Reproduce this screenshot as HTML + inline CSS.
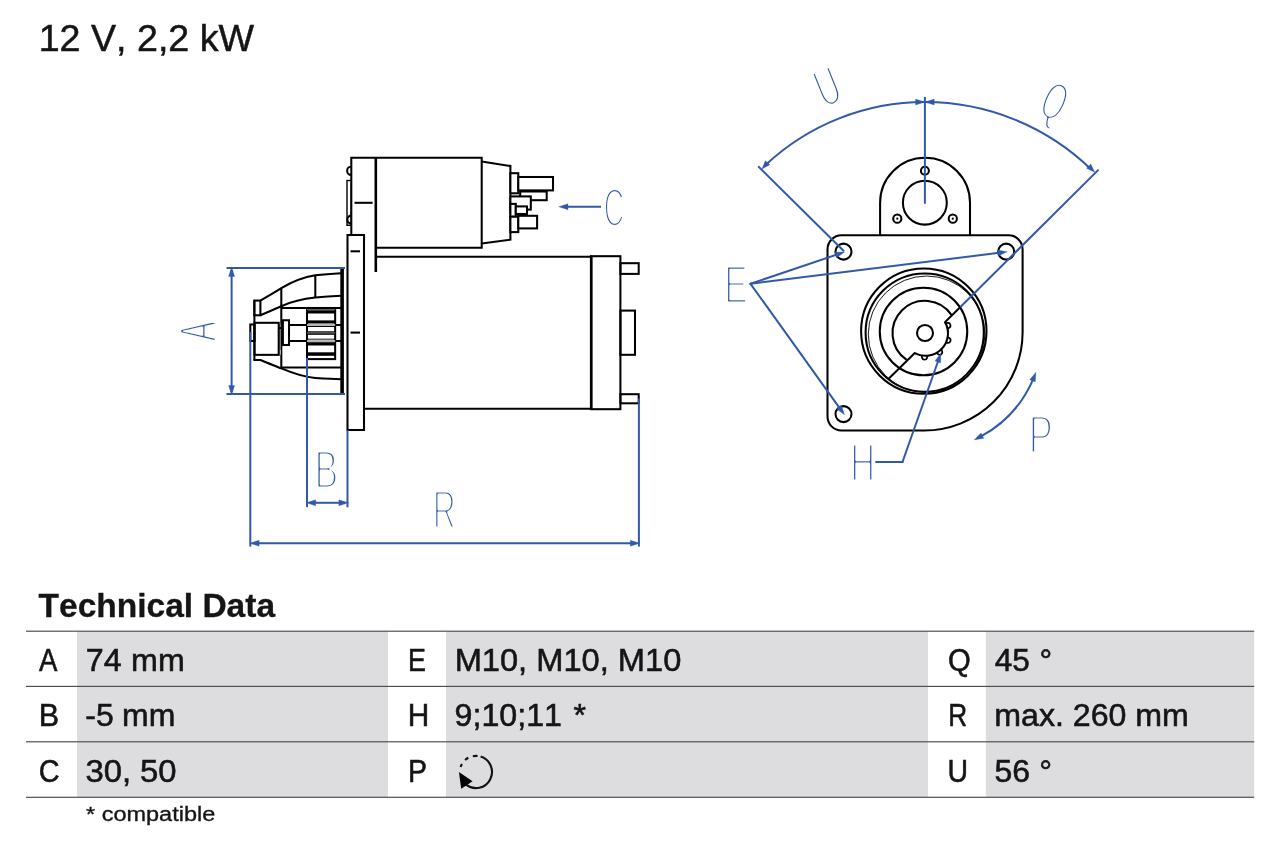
<!DOCTYPE html>
<html lang="en"><head><meta charset="utf-8"><title>12 V, 2,2 kW</title>
<style>
html,body{margin:0;padding:0;background:#fff;}
body{width:1280px;height:853px;overflow:hidden;position:relative;font-family:"Liberation Sans",sans-serif;}
svg{position:absolute;left:0;top:0;display:block;will-change:transform;}
text{font-family:"Liberation Sans",sans-serif;}
.k{fill:none;stroke:#000;stroke-width:2.05;stroke-linejoin:miter;stroke-linecap:butt;}
.b{fill:none;stroke:#3159a9;stroke-width:2.0;stroke-linecap:butt;}
.bf{fill:#3159a9;stroke:none;}
.lt{font-family:"Liberation Sans",sans-serif;font-weight:400;fill:#3159a9;stroke:#fff;stroke-linejoin:round;paint-order:fill stroke;}
.ah{stroke:#3159a9;stroke-width:0.3;stroke-linejoin:round;}
.t{fill:#151515;font-kerning:none;font-weight:400;}
.bd{font-weight:700;}
</style></head><body>
<svg width="1280" height="853" viewBox="0 0 1280 853">
<rect x="0" y="0" width="1280" height="853" fill="#fff"/>

<text class="t" transform="translate(38.68 50.50) scale(1.0007 1.0000)" font-size="37.6" style="stroke:#151515;stroke-width:0.5px">12 V, 2,2 kW</text>
<rect x="77.1" y="631.2" width="310.9" height="55.2" fill="#dddddf"/>
<rect x="446" y="631.2" width="482" height="55.2" fill="#dddddf"/>
<rect x="985.8" y="631.2" width="268.4" height="55.2" fill="#dddddf"/>
<rect x="77.1" y="686.4" width="310.9" height="55.4" fill="#dddddf"/>
<rect x="446" y="686.4" width="482" height="55.4" fill="#dddddf"/>
<rect x="985.8" y="686.4" width="268.4" height="55.4" fill="#dddddf"/>
<rect x="77.1" y="741.8" width="310.9" height="55.5" fill="#dddddf"/>
<rect x="446" y="741.8" width="482" height="55.5" fill="#dddddf"/>
<rect x="985.8" y="741.8" width="268.4" height="55.5" fill="#dddddf"/>
<rect x="26" y="630.625" width="1228.2" height="1.15" fill="#4a4a4a"/>
<rect x="26" y="685.825" width="1228.2" height="1.15" fill="#4a4a4a"/>
<rect x="26" y="741.225" width="1228.2" height="1.15" fill="#4a4a4a"/>
<rect x="26" y="796.725" width="1228.2" height="1.15" fill="#4a4a4a"/>
<text class="t bd" transform="translate(38.52 617.35) scale(1.0159 1.0000)" font-size="33" style="stroke:#151515;stroke-width:0.3px">Technical Data</text>
<text class="t" transform="translate(39.02 670.75) scale(0.8990 1.0000)" font-size="30.7" style="stroke:#151515;stroke-width:0.55px">A</text>
<text class="t" transform="translate(85.82 670.75) scale(1.0502 1)" font-size="30.7" style="stroke:#151515;stroke-width:0.55px">74 <tspan dx="0.47">mm</tspan></text>
<text class="t" transform="translate(38.77 726.25) scale(0.9945 1.0000)" font-size="30.7" style="stroke:#151515;stroke-width:0.55px">B</text>
<text class="t" transform="translate(85.25 726.25) scale(1.0417 1)" font-size="30.7" style="stroke:#151515;stroke-width:0.55px">-5 <tspan dx="-0.41">mm</tspan></text>
<text class="t" transform="translate(38.81 781.65) scale(0.9387 1.0000)" font-size="30.7" style="stroke:#151515;stroke-width:0.55px">C</text>
<text class="t" transform="translate(85.42 781.65) scale(1.0703 1)" font-size="30.7" style="stroke:#151515;stroke-width:0.55px">30, <tspan dx="-0.25">50</tspan></text>
<text class="t" transform="translate(408.07 670.75) scale(0.8744 1.0000)" font-size="30.7" style="stroke:#151515;stroke-width:0.55px">E</text>
<text class="t" transform="translate(454.65 670.75) scale(1.0632 1.0000)" font-size="30.7" style="stroke:#151515;stroke-width:0.55px">M10, M10, M10</text>
<text class="t" transform="translate(407.83 726.25) scale(0.9709 1.0000)" font-size="30.7" style="stroke:#151515;stroke-width:0.55px">H</text>
<text class="t" transform="translate(454.57 726.25) scale(1.0488 1)" font-size="30.7" style="stroke:#151515;stroke-width:0.55px">9;10;11 <tspan dx="2.59">*</tspan></text>
<text class="t" transform="translate(407.94 781.65) scale(0.9272 1.0000)" font-size="30.7" style="stroke:#151515;stroke-width:0.55px">P</text>
<text class="t" transform="translate(947.89 670.75) scale(0.9520 1.0000)" font-size="30.7" style="stroke:#151515;stroke-width:0.55px">Q</text>
<text class="t" transform="translate(994.75 670.75) scale(1.0279 1)" font-size="30.7" style="stroke:#151515;stroke-width:0.55px">45 <tspan dx="0.76">°</tspan></text>
<text class="t" transform="translate(948.13 726.25) scale(0.8531 1.0000)" font-size="30.7" style="stroke:#151515;stroke-width:0.55px">R</text>
<text class="t" transform="translate(994.24 726.25) scale(1.0471 1.0000)" font-size="30.7" style="stroke:#151515;stroke-width:0.55px">max. 260 mm</text>
<text class="t" transform="translate(947.48 781.65) scale(0.9264 1.0000)" font-size="30.7" style="stroke:#151515;stroke-width:0.55px">U</text>
<text class="t" transform="translate(994.40 781.65) scale(1.0406 1)" font-size="30.7" style="stroke:#151515;stroke-width:0.55px">56 <tspan dx="0.55">°</tspan></text>
<text class="t" transform="translate(86.05 821.10) scale(1.1290 1.0000)" font-size="20.8" style="stroke:#151515;stroke-width:0.35px">* compatible</text>
<g fill="none" stroke="#111" stroke-width="2.1">
<path d="M480.61 756.60 A16.1 16.1 0 1 1 465.99 784.69"/>
<path d="M460.59 767.02 A16.1 16.1 0 0 1 461.96 763.95"/>
<path d="M465.13 760.04 A16.1 16.1 0 0 1 468.34 757.78"/>
<path d="M472.83 756.20 A16.1 16.1 0 0 1 477.58 755.99"/>
</g>
<polygon points="458.9,772 472.6,781.2 461.2,788.8" fill="#000"/>
<g id="left-view">
<path class="k" d="M351.3 235 V157.75 H481.7 V247.8 H376"/>
<line class="k" x1="375.8" y1="157.2" x2="375.8" y2="272" style="stroke-width:2.6"/>
<path class="k" d="M481.7 161.5 L510.4 166 V239.7 L481.7 243.4"/>
<line class="k" x1="354.5" y1="202.8" x2="372.6" y2="202.8"/>
<path class="k" d="M351.3 166.5 A4.2 4.2 0 0 0 351.3 174.9"/>
<path class="k" d="M351.3 215.6 A4 4 0 0 0 351.3 223.6"/>
<rect class="k" x="347" y="180.5" width="4.3" height="44.8" style="stroke-width:1.4"/>
<rect class="k" x="510.4" y="216.5" width="7.9" height="15.6" fill="#fff" style="fill:#fff"/>
<rect class="k" x="510.4" y="173.2" width="7.9" height="20.1" fill="#fff" style="fill:#fff"/>
<rect class="k" x="520.2" y="191.5" width="26.5" height="8.7" fill="#fff" style="fill:#fff"/>
<rect class="k" x="518.3" y="177" width="34.7" height="13.4" fill="#fff" style="fill:#fff"/>
<rect class="k" x="510.4" y="196.4" width="20.4" height="13.2" fill="#fff" style="fill:#fff"/>
<rect class="k" x="510.4" y="203.9" width="5.4" height="12.6" fill="#fff" style="fill:#fff"/>
<rect class="k" x="515.8" y="206.4" width="11.2" height="7.6" fill="#fff" style="fill:#fff"/>
<rect class="k" x="518.3" y="215.8" width="18.8" height="12.6" fill="#fff" style="fill:#fff"/>
<rect class="k" x="347.5" y="235" width="16.5" height="195" fill="#fff" style="fill:#fff"/>
<line class="k" x1="350.5" y1="251.3" x2="360" y2="251.3"/>
<line class="k" x1="350.5" y1="332.6" x2="360" y2="332.6"/>
<line class="k" x1="376" y1="256.8" x2="591" y2="256.8"/>
<line class="k" x1="364" y1="408.8" x2="591" y2="408.8"/>
<rect class="k" x="591.2" y="256.2" width="29.2" height="153"/>
<line class="k" x1="591.2" y1="255.45" x2="591.2" y2="409.95" style="stroke-width:2.6"/>
<rect class="k" x="620.4" y="263.2" width="18.3" height="10.7"/>
<rect class="k" x="620.4" y="394.2" width="18.3" height="9.1"/>
<rect class="k" x="620.4" y="310.6" width="14.6" height="44.2"/>
<line class="k" x1="342.1" y1="268.8" x2="342.1" y2="393.6" style="stroke-width:3.6"/>
<path class="k" d="M260.4 300.55 C268 296.3 276 291.6 281.3 288.2 C292 281.8 303 277.2 315.3 275.3 C324 274.2 333 273.6 341 273.2"/>
<path class="k" d="M260.4 315.3 C268 312 276 308.6 281.3 306.2 C292 301.4 303 298.9 315.3 297.6 C324 296.8 333 296.2 341 295.8"/>
<rect class="k" x="254.3" y="300.55" width="6.1" height="14.75"/>
<line class="k" x1="254.4" y1="300.55" x2="254.4" y2="360"/>
<line class="k" x1="281.3" y1="288.2" x2="281.3" y2="368.4"/>
<line class="k" x1="315.3" y1="275.3" x2="315.3" y2="297.6"/>
<line class="k" x1="281.3" y1="308" x2="341" y2="308"/>
<line class="k" x1="281.3" y1="367.4" x2="341" y2="367.4"/>
<path class="k" d="M253.4 360.0 H260.4 C268 363.2 276 366.2 281.3 368.4 C292 372.9 303 377.0 315.3 377.9 C324 378.4 333 378.9 341 379.2"/>
<rect x="279.3" y="323.5" width="1.6" height="26.5" fill="#777"/>
<rect x="279.3" y="350" width="1.6" height="4.8" fill="#bbb"/>
<rect class="k" x="254.5" y="322.8" width="24.2" height="32.05"/>
<rect class="k" x="250.3" y="324.5" width="4.2" height="16.5"/>
<rect class="k" x="282.9" y="320.25" width="6.1" height="24.75"/>
<line class="k" x1="289" y1="324.9" x2="341" y2="324.9"/>
<line class="k" x1="289" y1="341" x2="341" y2="341"/>
<line class="k" x1="278.7" y1="328" x2="281.3" y2="328"/>
<rect class="k" x="307" y="308" width="28.15" height="51.1" fill="#fff" style="fill:#fff"/>
<rect x="307" y="309" width="28.15" height="1.3" fill="#666"/>
<rect x="307" y="310.3" width="28.15" height="3.2" fill="#000"/>
<rect x="307" y="320.4" width="28.15" height="3.1" fill="#000"/>
<rect x="307" y="324" width="28.15" height="1.9" fill="#b4b4b4"/>
<rect x="307" y="326" width="28.15" height="1" fill="#000"/>
<rect x="307" y="331.3" width="28.15" height="0.8" fill="#000"/>
<rect x="307" y="332.1" width="28.15" height="1.9" fill="#404040"/>
<rect x="307" y="334" width="28.15" height="0.8" fill="#000"/>
<rect x="307" y="338.7" width="28.15" height="0.9" fill="#000"/>
<rect x="307" y="340.1" width="28.15" height="1.9" fill="#b4b4b4"/>
<rect x="307" y="342.2" width="28.15" height="3.3" fill="#000"/>
<rect x="307" y="352.3" width="28.15" height="3.5" fill="#000"/>
</g>
<g id="left-dims">
<line class="b" x1="226.5" y1="268" x2="345" y2="268"/>
<line class="b" x1="226.5" y1="394" x2="345" y2="394"/>
<line class="b" x1="231.6" y1="270" x2="231.6" y2="392"/>
<polygon class="bf ah" points="231.60,266.90 234.60,276.50 228.60,276.50"/>
<polygon class="bf ah" points="231.60,395.10 228.60,385.50 234.60,385.50"/>
<line class="b" x1="250.3" y1="331.9" x2="250.3" y2="546.6"/>
<line class="b" x1="638.9" y1="398.6" x2="638.9" y2="546.6"/>
<line class="b" x1="307" y1="358.1" x2="307" y2="507.3"/>
<line class="b" x1="347.5" y1="430" x2="347.5" y2="507.3"/>
<line class="b" x1="312" y1="502.8" x2="343" y2="502.8"/>
<polygon class="bf ah" points="306.10,502.80 315.70,499.80 315.70,505.80"/>
<polygon class="bf ah" points="348.50,502.80 338.90,505.80 338.90,499.80"/>
<line class="b" x1="255" y1="543.2" x2="634" y2="543.2"/>
<polygon class="bf ah" points="249.50,543.20 259.10,540.20 259.10,546.20"/>
<polygon class="bf ah" points="639.90,543.20 630.30,546.20 630.30,540.20"/>
<line class="b" x1="566" y1="206.8" x2="601" y2="206.8"/>
<polygon class="bf ah" points="558.70,206.80 568.00,203.80 568.00,209.80"/>
</g>
<g id="right-view">
<path class="k" d="M841.5 235.3 H1008.6 A14 14 0 0 1 1022.6 249.3 V332.5 A98.3 98.3 0 0 1 924.3 430.5 H841.5 A14 14 0 0 1 827.5 416.5 V249.3 A14 14 0 0 1 841.5 235.3 Z"/>
<path class="k" d="M880.1 235.3 V202.8 A44.95 44.95 0 0 1 970 202.8 V235.3"/>
<circle class="k" cx="924.85" cy="202.65" r="21.95"/>
<circle class="k" cx="924.9" cy="170.7" r="4"/>
<circle class="k" cx="897.3" cy="218.7" r="4.1"/>
<circle class="k" cx="952.8" cy="218.7" r="4.1"/>
<circle cx="897.3" cy="218.7" r="1.1" fill="#000"/><circle cx="952.8" cy="218.7" r="1.1" fill="#000"/>
<circle class="k" cx="843.5" cy="251.6" r="8"/>
<circle class="k" cx="1006.2" cy="251.6" r="8"/>
<circle class="k" cx="843.5" cy="414.1" r="8"/>
<circle class="k" cx="923.8" cy="331.1" r="62.7"/>
<circle class="k" cx="924.7" cy="332.6" r="59.1"/>
<circle class="k" cx="926.6" cy="334.3" r="58.3" style="stroke-width:0.9"/>
<circle class="k" cx="923.5" cy="331.5" r="43.75"/>
<path d="M945.12 323.12 L948.09 322.88 Q949.74 322.76 950.36 324.66 Q950.99 326.56 949.59 327.44 L947.06 329.01" fill="#fff" stroke="#000" stroke-width="1.8" stroke-linejoin="round"/>
<path d="M947.11 336.68 L949.67 338.22 Q951.08 339.08 950.48 340.98 Q949.88 342.89 948.23 342.80 L945.26 342.60" fill="#fff" stroke="#000" stroke-width="1.8" stroke-linejoin="round"/>
<path d="M940.97 348.73 L942.18 351.45 Q942.84 352.97 941.25 354.18 Q939.67 355.40 938.38 354.37 L936.06 352.50" fill="#fff" stroke="#000" stroke-width="1.8" stroke-linejoin="round"/>
<path d="M927.71 355.25 L926.96 358.14 Q926.53 359.73 924.53 359.70 Q922.53 359.66 922.16 358.05 L921.51 355.14" fill="#fff" stroke="#000" stroke-width="1.8" stroke-linejoin="round"/>
<circle class="k" cx="925" cy="333" r="8"/>
<path class="k" d="M951.61 315.06 A32.3 32.3 0 1 0 906.61 359.78"/>
<path class="k" d="M960.4 307 L945.04 322.12 A22.5 22.5 0 0 1 914.79 353.05 L888.9 378.4"/>
</g>
<g id="right-dims">
<path class="b" d="M765.50 165.08 A233.2 233.2 0 0 1 924.90 102.10"/>
<path class="b" d="M924.90 102.10 A239 239 0 0 1 1091.50 169.74"/>
<line class="b" x1="924.9" y1="96.9" x2="924.9" y2="203.7"/>
<polygon class="bf ah" points="924.90,102.10 915.60,105.10 915.60,99.10"/>
<polygon class="bf ah" points="924.90,102.10 934.20,99.10 934.20,105.10"/>
<polygon class="bf ah" points="761.90,169.10 765.35,160.67 769.85,164.65"/>
<polygon class="bf ah" points="1094.70,172.20 1086.53,168.17 1090.81,163.96"/>
<line class="b" x1="758.2" y1="166.3" x2="844" y2="251.2"/>
<line class="b" x1="960.4" y1="307" x2="1098.6" y2="169.6"/>
<line class="b" x1="750.5" y1="283.8" x2="836.922" y2="254.564" style="stroke-linecap:round"/>
<polygon class="bf ah" points="844.50,252.00 836.65,257.82 834.73,252.14"/>
<line class="b" x1="750.5" y1="283.8" x2="999.261" y2="252.79" style="stroke-linecap:round"/>
<polygon class="bf ah" points="1007.20,251.80 998.34,255.93 997.60,249.97"/>
<line class="b" x1="750.5" y1="283.8" x2="839.836" y2="408.3" style="stroke-linecap:round"/>
<polygon class="bf ah" points="844.50,414.80 836.64,408.99 841.52,405.49"/>
<line class="b" x1="876.3" y1="462" x2="902.5" y2="462" style="stroke-linecap:square"/>
<line class="b" x1="902.5" y1="462" x2="938.237" y2="360.744"/>
<polygon class="bf ah" points="940.90,353.20 940.63,362.97 934.98,360.97"/>
<path class="b" d="M1033.31 378.91 A118.3 118.3 0 0 1 980.58 436.66"/>
<polygon class="bf ah" points="1035.95,372.18 1035.26,381.93 1029.69,379.69"/>
<polygon class="bf ah" points="974.12,439.89 981.03,432.98 983.77,438.32"/>
</g>
<text class="lt" transform="translate(198.10 331.30) rotate(-90) scale(0.3019 0.5265)" x="-33.35" y="34.40" font-size="100" stroke-width="4.7">A</text>
<text class="lt" transform="translate(327.00 469.40) rotate(0) scale(0.3562 0.5403)" x="-34.81" y="34.40" font-size="100" stroke-width="5.5">B</text>
<text class="lt" transform="translate(444.80 509.50) rotate(0) scale(0.3193 0.5371)" x="-37.89" y="34.40" font-size="100" stroke-width="5.5">R</text>
<text class="lt" transform="translate(614.20 207.35) rotate(0) scale(0.2836 0.5283)" x="-36.74" y="34.42" font-size="100" stroke-width="5.5">C</text>
<text class="lt" transform="translate(736.60 284.25) rotate(0) scale(0.3491 0.5371)" x="-35.30" y="34.40" font-size="100" stroke-width="5.5">E</text>
<text class="lt" transform="translate(862.70 462.50) rotate(0) scale(0.3455 0.5371)" x="-36.13" y="34.40" font-size="100" stroke-width="5.5">H</text>
<text class="lt" transform="translate(1041.40 434.20) rotate(0) scale(0.3625 0.5403)" x="-34.81" y="34.40" font-size="100" stroke-width="5.5">P</text>
<text class="lt" transform="translate(1054.80 101.20) rotate(24) scale(0.2964 0.5360)" x="-38.87" y="34.42" font-size="100" stroke-width="5.5">Q</text>
<text class="lt" transform="translate(827.60 87.00) rotate(-22) scale(0.3159 0.5368)" x="-36.11" y="33.91" font-size="100" stroke-width="5.5">U</text>
</svg>
</body></html>
